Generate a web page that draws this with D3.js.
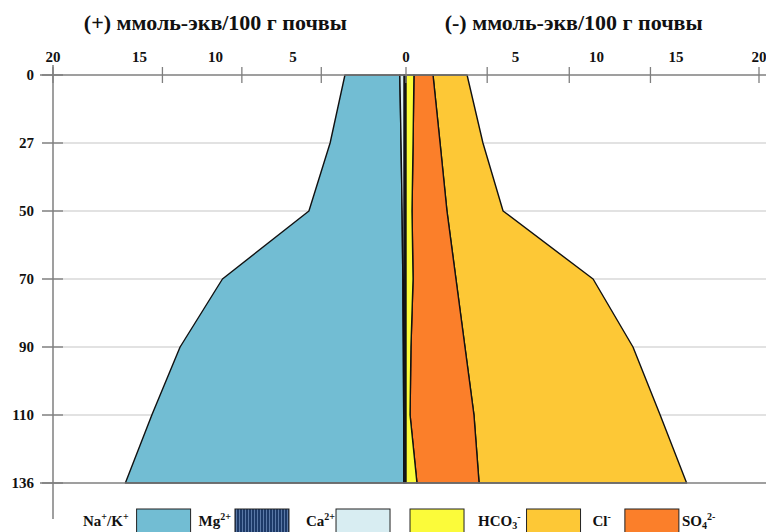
<!DOCTYPE html>
<html><head><meta charset="utf-8">
<script src="https://cdn.jsdelivr.net/npm/d3@7"></script>
<style>
body{margin:0;background:#fff}
svg{display:block}
text{font-family:"Liberation Serif","Times New Roman",serif;font-weight:bold;fill:#111}
</style>
</head><body>
<svg id="chart" width="766" height="532" font-family="Liberation Serif, Times New Roman, serif"></svg>
<script>
// ---- data (mmol-eq / 100 g soil) ----
const depths = ["0", "27", "50", "70", "90", "110", "136"];
// cations (left side, drawn from 0 outward: Mg, Ca, Na/K)
const naK = [3.11, 4.02, 5.28, 10.22, 12.65, 14.27, 15.78];
const mg  = [0.10, 0.10, 0.10, 0.10, 0.10, 0.10, 0.10];
const ca  = [0.25, 0.18, 0.12, 0.08, 0.05, 0.03, 0.02];
// anions (right side, drawn from 0 outward: HCO3, SO4, Cl)
const hco3 = [0.45, 0.40, 0.34, 0.40, 0.28, 0.23, 0.62];
const so4  = [1.08, 1.53, 1.98, 2.43, 3.06, 3.62, 3.52];
const cl   = [1.93, 2.43, 3.18, 7.77, 9.52, 10.55, 11.76];
// top axis: where the original's tick marks and tick labels sit (in axis units)
const xTickMarks   = [-20, -13.8, -9.3, -4.8, 0, 4.6, 9.25, 13.85, 20];
const xTickLabelAt = [-20, -15.1, -10.8, -6.4, 0, 6.2, 10.8, 15.3, 20];
const xTickLabels  = ["20", "15", "10", "5", "0", "5", "10", "15", "20"];
const titles = ["(+) ммоль-экв/100 г почвы", "(-) ммоль-экв/100 г почвы"];
const titleAt = [-10.8, 9.5];
// legend label segments: [text, kind]
const legendLabels = {
  naK:  [["Na", ""], ["+", "sup"], ["/K", ""], ["+", "sup"]],
  mg:   [["Mg", ""], ["2+", "sup"]],
  ca:   [["Ca", ""], ["2+", "sup"]],
  hco3: [["HCO", ""], ["3", "sub"], ["-", "supsub"]],
  cl:   [["Cl", ""], ["-", "sup"]],
  so4:  [["SO", ""], ["4", "sub"], ["2-", "supsub"]]
};

// ---- styles ----
const colors = {
  naK: "#72bdd3", mg: "#1d3a68", ca: "#d8edf2",
  hco3: "#fbfb3a", so4: "#fb7f2a", cl: "#fdc836"
};
const FONT = "Liberation Serif, Times New Roman, serif";

const svg = d3.select("#chart");
const defs = svg.append("defs");
const pat = defs.append("pattern").attr("id", "mgPat").attr("patternUnits", "userSpaceOnUse")
  .attr("width", 3).attr("height", 10);
pat.append("rect").attr("width", 3).attr("height", 10).attr("fill", colors.mg);
pat.append("rect").attr("x", 2).attr("width", 1).attr("height", 10).attr("fill", "#5a78a6");

const x = d3.scaleLinear().domain([-20, 20]).range([53, 759]);
const y = d3.scalePoint().domain(depths).range([75, 483]);

const axisGray = "#7f7f7f";
const xLeft = x(-20);

// gridlines
svg.append("g").selectAll("line").data(depths.slice(1, -1)).join("line")
  .attr("x1", xLeft + 10).attr("x2", 766)
  .attr("y1", d => y(d)).attr("y2", d => y(d))
  .attr("stroke", "#d9d9d9").attr("stroke-width", 1.5);

// stacked areas
const rows = depths.map((d, i) => ({
  d,
  mg0: 0, mg1: -mg[i],
  ca0: -mg[i], ca1: -(mg[i] + ca[i]),
  na0: -(mg[i] + ca[i]), na1: -(mg[i] + ca[i] + naK[i]),
  h0: 0, h1: hco3[i],
  s0: hco3[i], s1: hco3[i] + so4[i],
  c0: hco3[i] + so4[i], c1: hco3[i] + so4[i] + cl[i]
}));
const layers = [
  ["naK", "na0", "na1"], ["ca", "ca0", "ca1"], ["mg", "mg0", "mg1"],
  ["cl", "c0", "c1"], ["so4", "s0", "s1"], ["hco3", "h0", "h1"]
];
const gA = svg.append("g");
layers.forEach(([key, a, b]) => {
  const area = d3.area().y(r => y(r.d)).x0(r => x(r[a])).x1(r => x(r[b]));
  gA.append("path").datum(rows)
    .attr("d", area)
    .attr("fill", key === "mg" ? "url(#mgPat)" : colors[key])
    .attr("stroke", "#111").attr("stroke-width", 1.4).attr("stroke-linejoin", "round");
});

// top axis line (depth 0) and bottom line (last depth)
[depths[0], depths[depths.length - 1]].forEach(d => {
  svg.append("line").attr("x1", xLeft - 13).attr("x2", 766)
    .attr("y1", y(d)).attr("y2", y(d))
    .attr("stroke", axisGray).attr("stroke-width", 1.5);
});

// left depth axis
svg.append("line").attr("x1", xLeft).attr("x2", xLeft)
  .attr("y1", y(depths[0]) - 10).attr("y2", y(depths[depths.length - 1]) + 36)
  .attr("stroke", axisGray).attr("stroke-width", 1.5);
const gY = svg.append("g");
gY.selectAll("line").data(depths).join("line")
  .attr("x1", xLeft - 11).attr("x2", xLeft + 10)
  .attr("y1", d => y(d)).attr("y2", d => y(d))
  .attr("stroke", axisGray).attr("stroke-width", 1.5);
gY.selectAll("text").data(depths).join("text")
  .attr("x", xLeft - 19).attr("y", d => y(d)).attr("dy", "0.35em")
  .attr("text-anchor", "end").attr("font-family", FONT).attr("font-size", 15).text(d => d);

// top value axis
const gX = svg.append("g");
gX.selectAll("line").data(xTickMarks).join("line")
  .attr("x1", d => x(d)).attr("x2", d => x(d))
  .attr("y1", y(depths[0]) - 8).attr("y2", y(depths[0]) + 8)
  .attr("stroke", axisGray).attr("stroke-width", 1.3);
gX.selectAll("text").data(xTickLabels).join("text")
  .attr("x", (d, i) => x(xTickLabelAt[i])).attr("y", 62)
  .attr("text-anchor", "middle").attr("font-family", FONT).attr("font-size", 15).text(d => d);

// titles
svg.append("g").selectAll("text").data(titles).join("text")
  .attr("x", (d, i) => x(titleAt[i])).attr("y", 30)
  .attr("text-anchor", "middle").attr("font-family", FONT).attr("font-size", 22).text(d => d);

// legend (flow layout)
function addLabel(g, segs, x0, yb) {
  const t = g.append("text").attr("x", x0).attr("y", yb).attr("font-family", FONT).attr("font-size", 15);
  segs.forEach(([s, k], j) => {
    const ts = t.append("tspan").text(s);
    if (k === "sup") ts.attr("font-size", 10).attr("dy", -6);
    else if (k === "sub") ts.attr("font-size", 10).attr("dy", 3);
    else if (k === "supsub") ts.attr("font-size", 10).attr("dy", -9);
    else if (j > 0) {
      const prev = segs[j - 1][1];
      ts.attr("dy", prev === "sup" ? 6 : prev === "sub" ? -3 : prev === "supsub" ? 6 : 0);
    }
  });
  return t.node().getComputedTextLength();
}
const gL = svg.append("g");
const seq = [
  ["label", "naK", 8], ["swatch", "naK", 8], ["label", "mg", 4], ["swatch", "mg", 17],
  ["label", "ca", 1], ["swatch", "ca", 20], ["swatch", "hco3", 14], ["label", "hco3", 6],
  ["swatch", "cl", 12], ["label", "cl", 14], ["swatch", "so4", 3], ["label", "so4", 0]
];
let cx = 83;
const swW = 54, swTop = 509, baseY = 526;
seq.forEach(([kind, key, gap]) => {
  if (kind === "label") {
    cx += addLabel(gL, legendLabels[key], cx, baseY) + gap;
  } else {
    gL.append("rect").attr("x", cx).attr("y", swTop).attr("width", swW).attr("height", 30)
      .attr("fill", key === "mg" ? "url(#mgPat)" : colors[key])
      .attr("stroke", "#222").attr("stroke-width", 1);
    cx += swW + gap;
  }
});
</script>
</body></html>
